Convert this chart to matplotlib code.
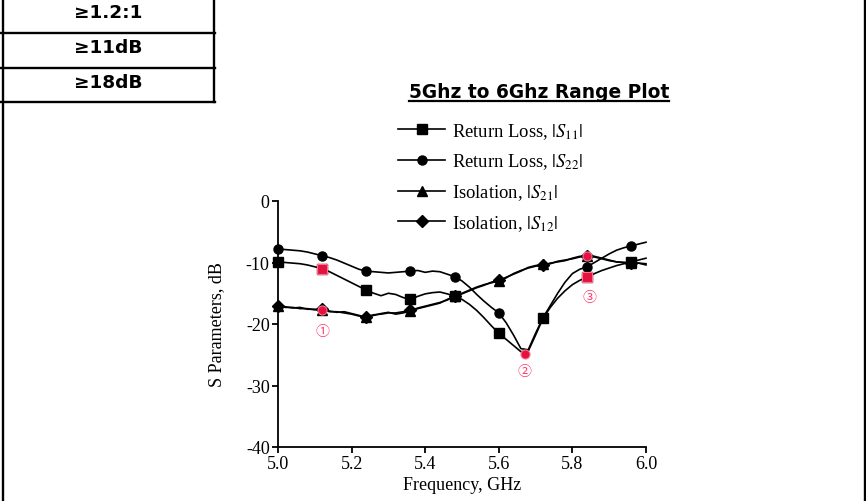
import numpy as np
import matplotlib.pyplot as plt
from matplotlib.lines import Line2D

# frequency sample points, GHz
freq = np.linspace(5.0, 6.0, 51)

s11 = [-9.9, -10.0, -10.1, -10.2, -10.4, -10.7, -11.0, -11.5, -12.1, -12.7,
       -13.3, -13.9, -14.5, -15.0, -15.4, -15.0, -15.2, -15.7, -16.0, -15.5,
       -15.1, -14.9, -14.8, -15.1, -15.5, -16.0, -16.8, -17.8, -19.0, -20.3,
       -21.5, -22.5, -23.5, -24.5, -24.4, -21.8, -19.1, -17.3, -15.8, -14.6,
       -13.6, -12.9, -12.4, -11.8, -11.3, -10.9, -10.5, -10.2, -9.9, -9.6,
       -9.3]
s22 = [-7.8, -7.9, -8.0, -8.1, -8.3, -8.6, -8.9, -9.2, -9.6, -10.1,
       -10.6, -11.1, -11.4, -11.5, -11.6, -11.7, -11.6, -11.5, -11.4, -11.3,
       -11.6, -11.4, -11.5, -11.9, -12.3, -13.0, -14.0, -15.2, -16.3, -17.3,
       -18.2, -19.8, -21.8, -24.0, -24.2, -21.5, -19.0, -17.0, -15.0, -13.2,
       -11.8, -11.1, -10.7, -10.0, -9.3, -8.6, -8.0, -7.6, -7.3, -7.0,
       -6.7]
s21 = [-17.0, -17.2, -17.4, -17.3, -17.6, -17.6, -17.7, -17.9, -18.1, -18.0,
       -18.3, -18.6, -18.9, -18.6, -18.3, -18.1, -18.4, -18.2, -17.9, -17.5,
       -17.2, -16.9, -16.6, -16.0, -15.5, -15.0, -14.5, -14.0, -13.6, -13.3,
       -13.0, -12.4, -11.9, -11.4, -10.8, -10.5, -10.3, -10.2, -9.8, -9.6,
       -9.4, -9.1, -8.9, -9.0, -9.3, -9.6, -9.9, -10.0, -10.0, -10.1,
       -10.4]
s12 = [-17.1, -17.3, -17.3, -17.5, -17.5, -17.7, -17.6, -18.0, -18.0, -18.2,
       -18.4, -18.7, -18.8, -18.5, -18.4, -18.2, -18.2, -18.0, -17.8, -17.4,
       -17.1, -16.8, -16.5, -16.1, -15.5, -15.1, -14.6, -14.1, -13.7, -13.2,
       -12.9, -12.5, -11.8, -11.3, -10.9, -10.6, -10.4, -10.1, -9.9, -9.7,
       -9.3, -9.0, -8.9, -9.1, -9.4, -9.7, -9.9, -10.0, -10.1, -10.1,
       -10.2]

series = [
    (s11, 's', 'Return Loss, $|S_{11}|$'),
    (s22, 'o', 'Return Loss, $|S_{22}|$'),
    (s21, '^', 'Isolation, $|S_{21}|$'),
    (s12, 'D', 'Isolation, $|S_{12}|$'),
]
marker_idx = list(range(0, 51, 6))

# highlighted points with circled labels
hl_freq = [5.12, 5.12, 5.67, 5.84, 5.84]
hl_db = [-11.0, -17.8, -24.9, -8.9, -12.4]
hl_marker = ['s', 'o', 'o', 'o', 's']
note_point = [1, 2, 4]
note_text = ['\u2460', '\u2461', '\u2462']
note_offset = [(0, -15), (0, -12), (2, -14)]

table_rows = ['\u22651.2:1', '\u226511dB', '\u226518dB']

serif = ['Liberation Serif', 'DejaVu Serif']
plt.rcParams['mathtext.fontset'] = 'stix'

fig = plt.figure(figsize=(8.66, 5.02), dpi=100)
W, H = 866, 502


def fx(px):
    return px / W


def fy(py):
    return 1 - py / H


# page borders and table
lw_b = 1.7
fig.add_artist(Line2D([fx(3), fx(3)], [0, 1], color='black', lw=lw_b))
fig.add_artist(Line2D([fx(865), fx(865)], [0, 1], color='black', lw=lw_b))
fig.add_artist(Line2D([fx(214), fx(214)], [fy(103), 1], color='black', lw=lw_b))
for yy in [34, 69, 103]:
    fig.add_artist(Line2D([0, fx(215)], [fy(yy), fy(yy)], color='black', lw=lw_b))
for txt, yy in zip(table_rows, [13, 48, 83]):
    fig.text(fx(108), fy(yy), txt, ha='center', va='center', fontsize=13.3,
             fontweight='bold', family='DejaVu Sans')

# title with underline
title = fig.text(fx(539), fy(92), '5Ghz to 6Ghz Range Plot', ha='center',
                 va='center', fontsize=13.4, fontweight='bold', family='DejaVu Sans')
fig.canvas.draw()
bb = title.get_window_extent().transformed(fig.transFigure.inverted())
fig.add_artist(Line2D([bb.x0, bb.x1], [fy(102), fy(102)], color='black', lw=1.6))

ax = fig.add_axes([fx(278), fy(448), fx(646) - fx(278), fy(202) - fy(448)])

handles = []
for vals, mk, lab in series:
    ln, = ax.plot(freq, vals, color='black', lw=1.2, marker=mk, ms=6.5 if mk != '^' else 7.5,
                  markevery=marker_idx, clip_on=False, label=lab)
    handles.append(ln)

for f, d, mk in zip(hl_freq, hl_db, hl_marker):
    ax.plot([f], [d], marker=mk, ms=6.5, color='#e3123f', mec='#ff6f90', mew=0.8,
            ls='none', clip_on=False, zorder=5)

for i, t, off in zip(note_point, note_text, note_offset):
    ax.annotate(t, (hl_freq[i], hl_db[i]), xytext=off, textcoords='offset points',
                ha='center', va='center', fontsize=10, color='#ff3d6e',
                family=['Noto Sans CJK SC', 'DejaVu Sans'])

ax.set_xlim(5.0, 6.0)
ax.set_ylim(-40, 0)
ax.set_xticks([5.0, 5.2, 5.4, 5.6, 5.8, 6.0])
ax.set_yticks([0, -10, -20, -30, -40])
ax.set_xticklabels(['5.0', '5.2', '5.4', '5.6', '5.8', '6.0'], family=serif, fontsize=13)
ax.set_yticklabels(['0', '-10', '-20', '-30', '-40'], family=serif, fontsize=13)
ax.tick_params(direction='out', length=4, width=1.3, pad=2)
for side in ['top', 'right']:
    ax.spines[side].set_visible(False)
for side in ['left', 'bottom']:
    ax.spines[side].set_linewidth(1.3)
ax.set_xlabel('Frequency, GHz', family=serif, fontsize=13, labelpad=3)
ax.set_ylabel('S Parameters, dB', family=serif, fontsize=13, labelpad=15)

fig.legend(handles=handles, loc='upper left', bbox_to_anchor=(fx(398), fy(122)),
           frameon=False, borderpad=0, borderaxespad=0, handlelength=2.55,
           handletextpad=0.35, labelspacing=0.58, prop={'family': serif, 'size': 13.4})

fig.savefig('out.png', dpi=100)
